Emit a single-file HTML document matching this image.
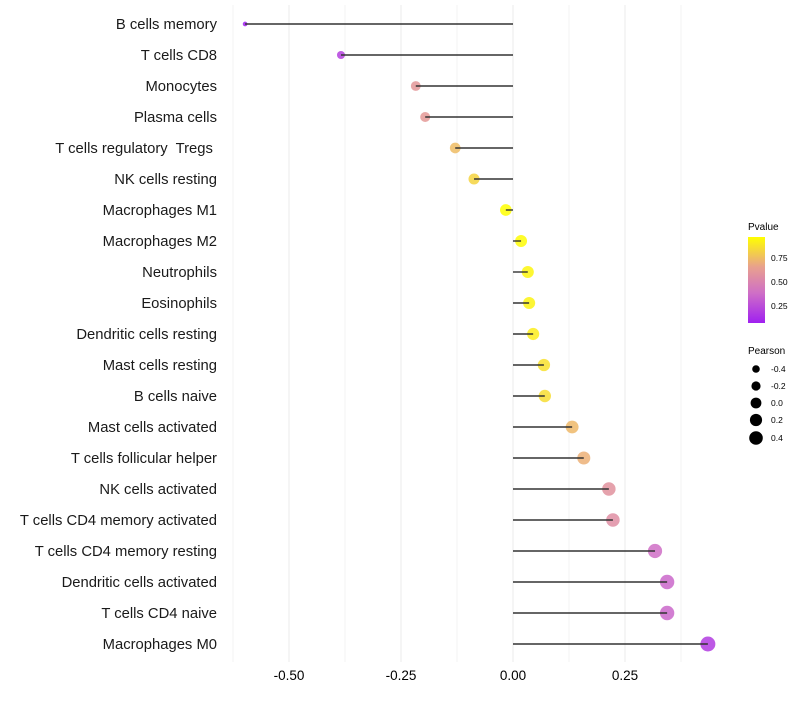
<!DOCTYPE html>
<html><head><meta charset="utf-8"><style>
body{margin:0;background:#fff;font-family:"Liberation Sans",sans-serif}
</style></head><body>
<svg id="chart" width="800" height="700" xmlns="http://www.w3.org/2000/svg" font-family="Liberation Sans, sans-serif">
<defs><linearGradient id="pg" x1="0" y1="1" x2="0" y2="0">
<stop offset="0" stop-color="#A020F0"/><stop offset="0.35" stop-color="#CF6FC6"/><stop offset="0.65" stop-color="#E8A08E"/><stop offset="1" stop-color="#FFFF00"/>
</linearGradient></defs>
<g id="grid"></g><g id="marks"></g><g id="labels"></g>
<g>
<text x="748" y="230" font-size="10">Pvalue</text>
<rect x="748" y="237" width="17" height="86" fill="url(#pg)"/>
<text x="771" y="261" font-size="8.5">0.75</text>
<text x="771" y="285" font-size="8.5">0.50</text>
<text x="771" y="309" font-size="8.5">0.25</text>
</g>
<g>
<text x="748" y="354" font-size="10">Pearson</text>
<circle cx="756" cy="369" r="3.8"/><text x="771" y="372" font-size="8.5">-0.4</text>
<circle cx="756" cy="386" r="4.6"/><text x="771" y="389" font-size="8.5">-0.2</text>
<circle cx="756" cy="403" r="5.4"/><text x="771" y="406" font-size="8.5">0.0</text>
<circle cx="756" cy="420" r="6.1"/><text x="771" y="423" font-size="8.5">0.2</text>
<circle cx="756" cy="438" r="6.8"/><text x="771" y="441" font-size="8.5">0.4</text>
</g>
</svg>
<script>
const categories=["B cells memory","T cells CD8","Monocytes","Plasma cells","T cells regulatory  Tregs ","NK cells resting","Macrophages M1","Macrophages M2","Neutrophils","Eosinophils","Dendritic cells resting","Mast cells resting","B cells naive","Mast cells activated","T cells follicular helper","NK cells activated","T cells CD4 memory activated","T cells CD4 memory resting","Dendritic cells activated","T cells CD4 naive","Macrophages M0"];
const pearson=[-0.598,-0.384,-0.217,-0.196,-0.129,-0.087,-0.016,0.018,0.033,0.036,0.045,0.069,0.071,0.132,0.158,0.214,0.223,0.317,0.344,0.344,0.435];
const pvalues=[0.05,0.2,0.6,0.61,0.74,0.82,0.96,0.95,0.93,0.92,0.9,0.86,0.85,0.73,0.7,0.57,0.55,0.38,0.35,0.35,0.18];
const tickVals=[-0.5,-0.25,0,0.25];
const tickLabels=["-0.50","-0.25","0.00","0.25"];
const NS="http://www.w3.org/2000/svg";
const x=v=>513+v*448, y=i=>24+i*31;
const rad=v=>Math.sqrt(Math.max(2.5,16+(v+0.384)*49));
function mix(a,b,t){return a.map((c,k)=>Math.round(c+(b[k]-c)*t));}
const stops=[[0,[160,32,240]],[0.35,[207,111,198]],[0.65,[232,160,142]],[1,[255,255,0]]];
function col(p){const t=Math.max(0,Math.min(1,(p-0.07)/0.89));
 for(let k=1;k<stops.length;k++){if(t<=stops[k][0]){const a=stops[k-1],b=stops[k];return `rgb(${mix(a[1],b[1],(t-a[0])/(b[0]-a[0]))})`;}}
 return 'rgb(255,255,0)';}
function mk(tag,at,parent){const e=document.createElementNS(NS,tag);for(const k in at)e.setAttribute(k,at[k]);parent.appendChild(e);return e;}
const grid=document.getElementById('grid'),marks=document.getElementById('marks'),labels=document.getElementById('labels');
for(let v=-0.625;v<=0.4;v+=0.125){const g=mk('line',{x1:x(v),x2:x(v),y1:5,y2:662,stroke:'#ebebeb','stroke-width':Math.abs(v*8%2)<0.01?1:0.6},grid);

}
tickVals.forEach((v,i)=>{const t=mk('text',{x:x(v),y:680,'font-size':13.5,'text-anchor':'middle',fill:'#000'},labels);t.textContent=tickLabels[i];

});
categories.forEach((c,i)=>{
 const t=mk('text',{x:217,y:y(i)+5,'font-size':14.8,'text-anchor':'end',fill:'#1a1a1a','xml:space':'preserve'},labels);t.textContent=c;
 t.style.whiteSpace='pre';
 
 
 const d=mk('circle',{cx:x(pearson[i]),cy:y(i),r:rad(pearson[i]),fill:col(pvalues[i]),'fill-opacity':0.85},marks);
 
 
 const l=mk('line',{x1:x(0),x2:x(pearson[i]),y1:y(i),y2:y(i),stroke:'#333','stroke-width':1.4},marks);
 
 
});
</script>
</body></html>
